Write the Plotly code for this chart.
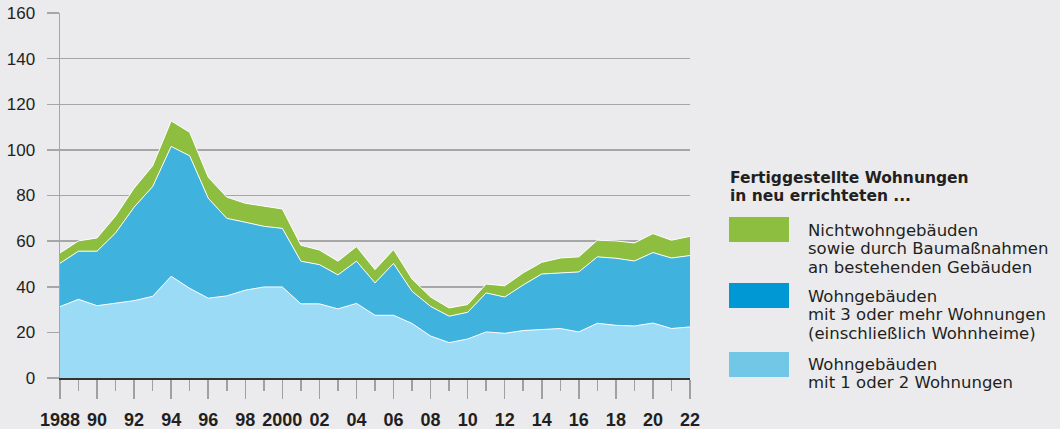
import plotly.graph_objects as go

years = list(range(1988, 2023))
# Wohngebäude mit 1 oder 2 Wohnungen (in 1000)
ein_zwei = [31.3, 34.5, 31.7, 32.9, 33.9, 35.8, 44.6, 39.3, 35.0, 36.0,
            38.5, 39.9, 39.9, 32.5, 32.5, 30.3, 32.7, 27.5, 27.5, 23.9,
            18.4, 15.5, 17.1, 20.2, 19.6, 20.8, 21.4, 21.7, 20.2, 24.0,
            23.1, 22.8, 24.1, 21.7, 22.4]
# Wohngebäude mit 3 oder mehr Wohnungen
drei_mehr = [19.0, 21.1, 23.9, 30.7, 41.0, 48.1, 56.9, 58.1, 43.8, 34.0,
             29.8, 26.6, 25.7, 18.7, 17.2, 14.9, 18.5, 14.2, 22.7, 14.1,
             13.0, 11.6, 11.7, 17.1, 15.9, 20.0, 24.2, 24.4, 26.3, 29.1,
             29.4, 28.5, 30.9, 30.9, 31.3]
# Nichtwohngebäude sowie Baumaßnahmen an bestehenden Gebäuden
nichtwohn = [4.5, 4.5, 5.8, 7.4, 8.3, 9.1, 11.2, 10.3, 9.2, 9.3,
             8.3, 8.9, 8.5, 7.0, 6.4, 6.0, 6.4, 5.8, 6.1, 5.4,
             4.1, 3.6, 3.4, 3.9, 4.9, 5.3, 5.1, 6.5, 6.6, 7.3,
             7.6, 7.9, 8.3, 7.8, 8.4]

tick_vals = list(range(1988, 2023, 2))
tick_text = ["1988", "90", "92", "94", "96", "98", "2000", "02", "04", "06",
             "08", "10", "12", "14", "16", "18", "20", "22"]
y_ticks = [0, 20, 40, 60, 80, 100, 120, 140, 160]

legend_title = ["Fertiggestellte Wohnungen", "in neu errichteten ..."]
legend_items = [
    (["Nichtwohngebäuden", "sowie durch Baumaßnahmen", "an bestehenden Gebäuden"], "#8dbe3f"),
    (["Wohngebäuden", "mit 3 oder mehr Wohnungen", "(einschließlich Wohnheime)"], "#0098d4"),
    (["Wohngebäuden", "mit 1 oder 2 Wohnungen"], "#72c6e6"),
]

BG = "#ebebed"
W, H = 1060, 429
L, R, T, B = 60, 690, 13, 378

fig = go.Figure()
series = [(ein_zwei, "#9cdbf6"), (drei_mehr, "#3fb2de"), (nichtwohn, "#8dbe3f")]
for vals, col in series:
    fig.add_trace(go.Scatter(
        x=years, y=vals, stackgroup="one", mode="lines",
        line=dict(color="white", width=1), fillcolor=col, hoverinfo="skip",
        showlegend=False))

def px(x):
    return (x - L) / (R - L)

def py(y):
    return (B - y) / (B - T)

font_tick = "Liberation Sans, Arial, sans-serif"
font_leg = "DejaVu Sans, Liberation Sans, sans-serif"
TXT = "#231f20"

annotations = []
shapes = []
for i, t in enumerate(legend_title):
    annotations.append(dict(
        text="<b>" + t + "</b>", x=px(728), y=py(177.5 + i * 18),
        xref="paper", yref="paper", xanchor="left", yanchor="middle", showarrow=False,
        font=dict(size=15.5, color=TXT, family=font_leg)))
sw_tops = [217, 283, 352]
text_tops = [230, 296, 364]
for (lines, col), st, tt in zip(legend_items, sw_tops, text_tops):
    shapes.append(dict(type="rect", xref="paper", yref="paper",
                       x0=px(729), x1=px(789), y0=py(st), y1=py(st + 25),
                       fillcolor=col, line=dict(width=0), layer="above"))
    for i, ln in enumerate(lines):
        annotations.append(dict(
            text=ln, x=px(806), y=py(tt + i * 18.6),
            xref="paper", yref="paper", xanchor="left", yanchor="middle", showarrow=False,
            font=dict(size=16.5, color=TXT, family=font_leg)))

fig.update_layout(
    width=W, height=H,
    margin=dict(l=L, r=W - R, t=T, b=H - B, pad=0, autoexpand=False),
    paper_bgcolor=BG, plot_bgcolor=BG,
    showlegend=False,
    annotations=annotations,
    shapes=shapes,
    xaxis=dict(
        range=[1988, 2022], tickmode="array", tickvals=tick_vals, ticktext=tick_text,
        showgrid=False, zeroline=False, automargin=False,
        showline=True, linecolor="#333333", linewidth=2,
        ticks="outside", ticklen=19, tickcolor="#a0a0a0", tickwidth=1.5,
        tickfont=dict(family=font_tick, size=18, color=TXT, weight="bold"),
        ticklabelstandoff=5,
        minor=dict(tickmode="linear", tick0=1988, dtick=1, ticks="outside",
                   ticklen=11, tickcolor="#a0a0a0", tickwidth=1.5, showgrid=False),
        fixedrange=True,
    ),
    yaxis=dict(
        range=[0, 160], tickmode="array", tickvals=y_ticks,
        showgrid=True, gridcolor="#a6a6a6", gridwidth=1.5, zeroline=False,
        automargin=False,
        showline=True, linecolor="#a6a6a6", linewidth=1.5,
        ticks="outside", ticklen=12, tickcolor="#a6a6a6", tickwidth=1.5,
        tickfont=dict(family=font_tick, size=17, color=TXT),
        ticklabelstandoff=8,
        layer="below traces",
        fixedrange=True,
    ),
)

fig.write_html("out.html", config={"displayModeBar": False, "staticPlot": True},
               post_script="document.body.style.margin='0';document.body.style.background='#ebebed';")
